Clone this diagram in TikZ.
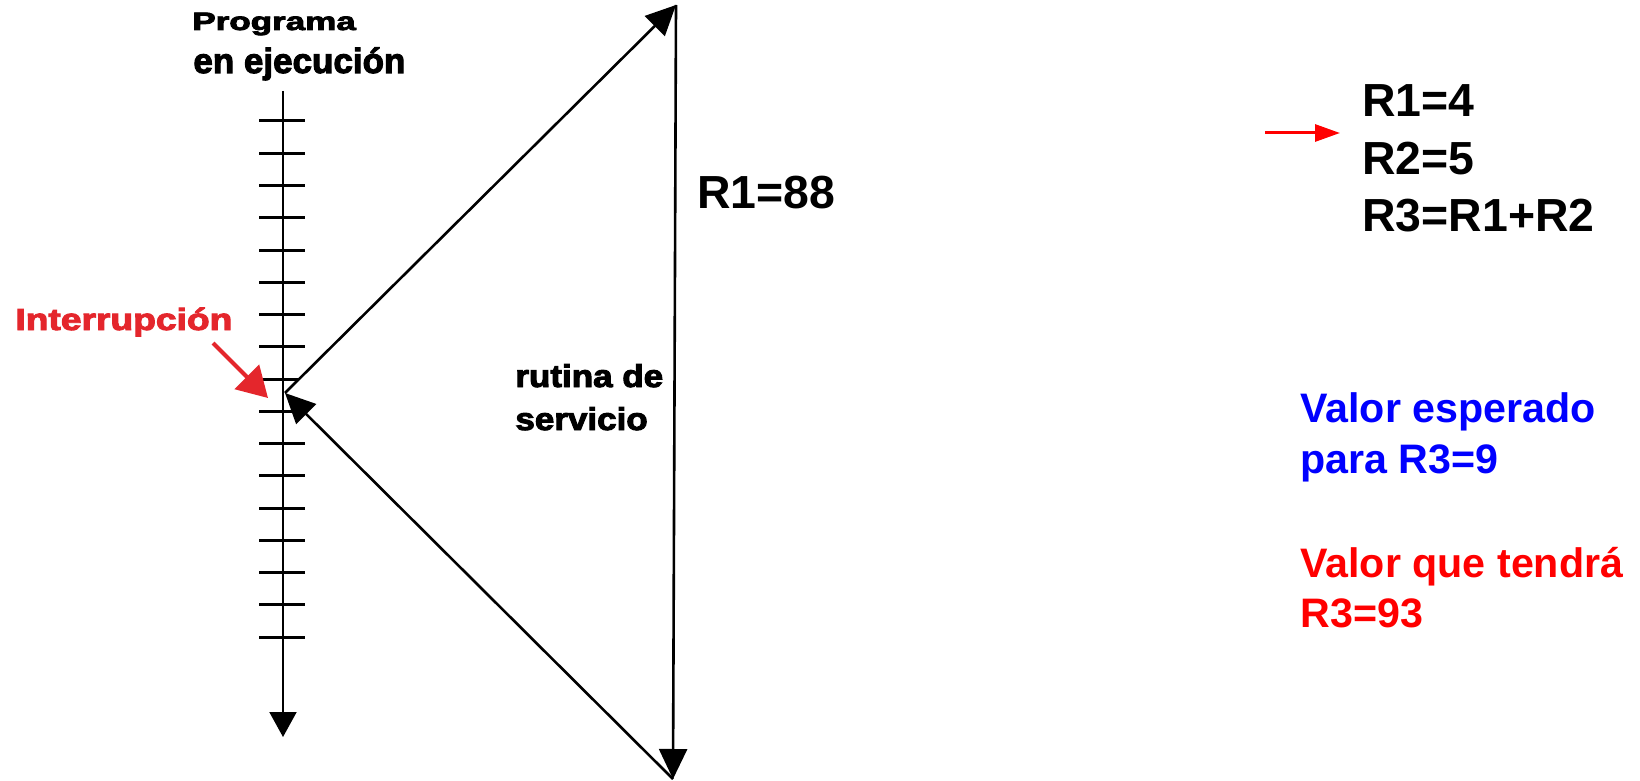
\documentclass[tikz,border=0pt]{standalone}
\usepackage{fontspec}
\setmainfont{Liberation Sans}
\newfontfamily\heavyfont{Liberation Sans}[FakeBold=3]
\usetikzlibrary{arrows.meta}
\definecolor{irqred}{RGB}{228,38,44}
\definecolor{pcred}{RGB}{255,0,0}
\definecolor{okblue}{RGB}{0,0,255}

\begin{document}
\begin{tikzpicture}[x=0.5pt, y=-0.5pt,
    lbl/.style={inner sep=0pt, anchor=base west, font=\heavyfont\bfseries\fontsize{17.5}{21}\selectfont},
    reg/.style={inner sep=0pt, anchor=base west, font=\bfseries\fontsize{23.2}{28}\selectfont},
    note/.style={inner sep=0pt, anchor=base west, font=\bfseries\fontsize{20.6}{25}\selectfont},
    tick/.style={line width=1.5pt},
    axis/.style={line width=1pt, -{Triangle[length=12.5pt,width=13.5pt]}},
    flow/.style={line width=1.3pt, -{Triangle[length=15pt,width=14pt]}},
    irq/.style={draw=irqred, line width=2pt, -{Triangle[length=15pt,width=17pt]}},
    pc/.style={draw=pcred, line width=1.5pt, -{Triangle[length=12.5pt,width=8.5pt]}}
]
    \useasboundingbox[fill=white] (0,0) rectangle (1640,781);

    % Program timeline
    \coordinate (tltop) at (283,91);
    \coordinate (tlend) at (283,737);
    \draw[axis] (tltop) -- (tlend);
    \foreach \i in {0,...,7,9,10,...,16}
        \draw[tick] (259,{121+32.25*\i}) -- (305,{121+32.25*\i});
    \draw[tick] (263,379) -- (299,379);

    % Names
    \node[lbl] (prog) at (192,30) {\scalebox{1}[0.72]{Programa}};
    \node[lbl] (exec) at (193,73) {en ejecución};
    \node[lbl, text=irqred, font=\heavyfont\bfseries\fontsize{18.6}{22}\selectfont] (irqname) at (15,330) {\scalebox{1}[0.82]{Interrupción}};
    \node[lbl] (rutina) at (515,387) {\scalebox{1}[0.9]{rutina de}};
    \node[lbl] (servicio) at (515,430) {\scalebox{1}[0.9]{servicio}};

    % Service routine
    \coordinate (irqpt) at (285,393);
    \coordinate (srvtop) at (676,5);
    \coordinate (srvbot) at (673,779);
    \draw[flow] (irqpt) -- (srvtop);
    \draw[flow] (srvtop) -- (srvbot);
    \draw[flow] (srvbot) -- (irqpt);
    \node[reg] (srvr1) at (697,208) {R1=88};

    % Interrupt marker
    \coordinate (irqfrom) at (213,343);
    \coordinate (irqto) at (268,398);
    \draw[irq] (irqfrom) -- (irqto);

    % Main program
    \node[reg] (r1) at (1362,117) {R1=4};
    \node[reg] (r2) at (1362,175) {R2=5};
    \node[reg] (r3) at (1362,232) {R3=R1+R2};
    \coordinate (pcfrom) at (1265,133);
    \coordinate (pcto) at (1340,133);
    \draw[pc] (pcfrom) -- (pcto);

    % Results
    \node[note, text=okblue] (expa) at (1300,422) {Valor esperado};
    \node[note, text=okblue] (expb) at (1300,473) {para R3=9};
    \node[note, text=pcred] (gota) at (1300,577) {Valor que tendrá};
    \node[note, text=pcred] (gotb) at (1300,627) {R3=93};
\end{tikzpicture}
\end{document}
